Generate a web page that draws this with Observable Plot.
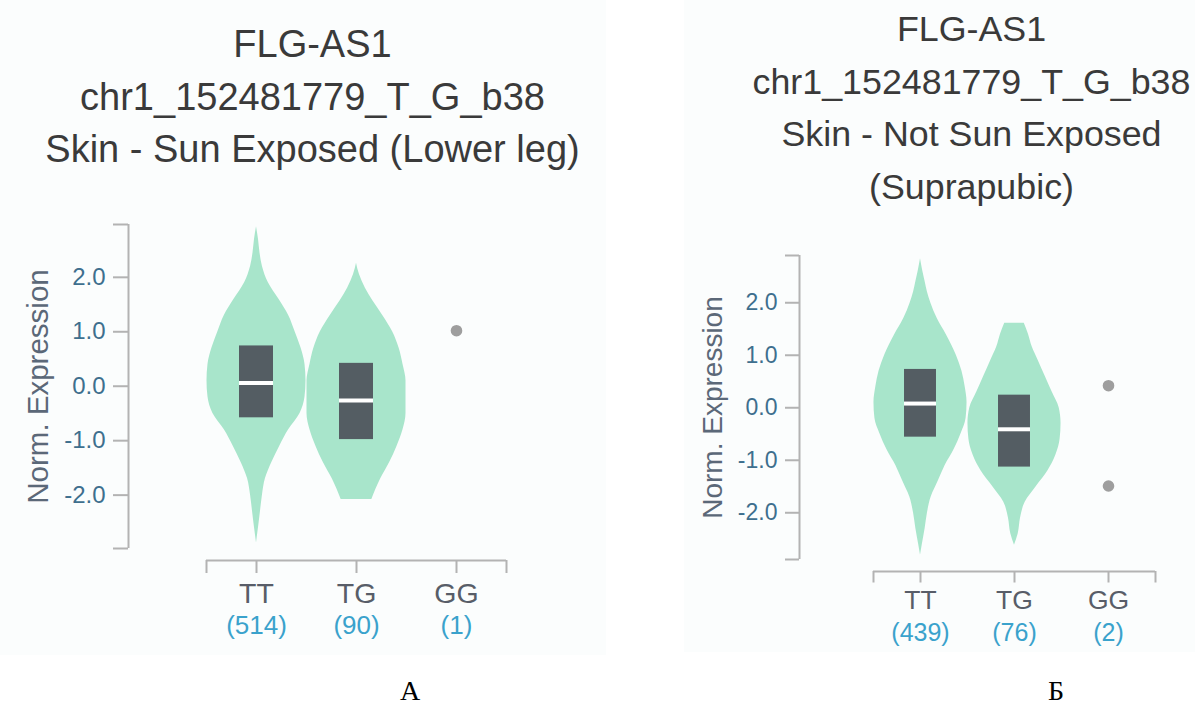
<!DOCTYPE html>
<html>
<head>
<meta charset="utf-8">
<script src="https://cdn.jsdelivr.net/npm/d3@7"></script>
<script src="https://cdn.jsdelivr.net/npm/@observablehq/plot@0.6"></script>
<style>
  html, body { margin: 0; padding: 0; background: #ffffff; }
  #page { position: relative; width: 1195px; height: 707px; overflow: hidden; background: #ffffff; }
  .panel { position: absolute; top: 0; background: #fbfdfd; }
  .title { position: absolute; text-align: center; color: #3a3a3a; font-family: "Liberation Sans", Arial, sans-serif; white-space: nowrap; }
  .chart { position: absolute; top: 0; }
  .tag { position: absolute; font-family: "Liberation Serif", "Times New Roman", serif; font-size: 28px; color: #000; line-height: 1; }
</style>
</head>
<body>
<div id="page">
  <div class="panel" style="left:0;width:606px;height:655px;"></div>
  <div class="panel" style="left:684px;width:511px;height:652px;"></div>
  <div class="title" id="titleL" style="left:0;width:625px;top:18px;font-size:38px;line-height:52.5px;"></div>
  <div class="title" id="titleR" style="left:748px;width:447px;top:3px;font-size:35.8px;line-height:52.5px;"></div>
  <div class="chart" id="chartL" style="left:0;"></div>
  <div class="chart" id="chartR" style="left:680px;"></div>
  <div class="tag" style="left:400px;top:677px;">А</div>
  <div class="tag" style="left:1048px;top:677px;">Б</div>
</div>
<script>
// ---------- data ----------
const genotypes = ["TT", "TG", "GG"];

const titleLinesA = ["FLG-AS1", "chr1_152481779_T_G_b38", "Skin - Sun Exposed (Lower leg)"];
const titleLinesB = ["FLG-AS1", "chr1_152481779_T_G_b38", "Skin - Not Sun Exposed", "(Suprapubic)"];

const countsA = ["(514)", "(90)", "(1)"];
const countsB = ["(439)", "(76)", "(2)"];

const yTicks = [-2, -1, 0, 1, 2];
const yExtentA = [-2.98, 2.97];
const yExtentB = [-2.89, 2.90];

// violin density profiles (expression level, relative density)
const ttA_y = [2.93, 2.7, 2.45, 2.2, 1.9, 1.6, 1.3, 1.0, 0.7, 0.4, 0.1, -0.2, -0.5, -0.8, -1.1, -1.4, -1.7, -2.0, -2.3, -2.6, -2.88];
const ttA_d = [0, .04, .07, .12, .24, .45, .65, .78, .9, .98, 1, .98, .88, .65, .47, .31, .18, .12, .08, .04, 0];
const tgA_y = [2.26, 2.05, 1.8, 1.57, 1.3, 1.0, 0.7, 0.4, 0.1, -0.2, -0.5, -0.8, -1.1, -1.4, -1.7, -2.08];
const tgA_d = [0, .06, .18, .33, .53, .73, .86, .94, 1, 1, 1, .94, .82, .67, .49, .31];

const ttB_y = [2.84, 2.6, 2.4, 2.2, 2.0, 1.7, 1.4, 1.0, 0.7, 0.4, 0.1, -0.2, -0.5, -0.8, -1.1, -1.4, -1.7, -2.0, -2.3, -2.6, -2.81];
const ttB_d = [0, .05, .1, .15, .22, .36, .55, .77, .89, .96, 1, .98, .87, .72, .53, .38, .23, .15, .1, .04, 0];
const tgB_y = [1.61, 1.4, 1.16, 0.9, 0.6, 0.3, 0.0, -0.3, -0.6, -0.9, -1.2, -1.5, -1.8, -2.1, -2.4, -2.62];
const tgB_d = [.21, .3, .38, .51, .66, .81, .96, 1, .98, .89, .72, .47, .23, .13, .08, 0];

// box summaries for TT, TG
const boxA_q1 = [-0.58, -0.98];
const boxA_med = [0.06, -0.26];
const boxA_q3 = [0.74, 0.42];
const boxB_q1 = [-0.56, -1.13];
const boxB_med = [0.08, -0.41];
const boxB_q3 = [0.73, 0.24];

// GG individual samples
const ggA = [1.02];
const ggB = [0.42, -1.49];

// ---------- styles ----------
const C = {
  violin: "#a8e5cb",
  box: "#545d63",
  median: "#ffffff",
  dot: "#9e9e9e",
  axis: "#b3b3b3",
  tick: "#3e6f8e",
  ylabel: "#5b6878",
  xlabel: "#585d68",
  count: "#3aa2cc"
};
const FONT = "'Liberation Sans', Arial, sans-serif";

function fillTitle(id, lines) {
  document.getElementById(id).innerHTML = lines.map(s => `<div>${s}</div>`).join("");
}
fillTitle("titleL", titleLinesA);
fillTitle("titleR", titleLinesB);

function violinRows(ys, ds, idx, g, half) {
  return ys.map((y, i) => ({g, y, x1: idx - ds[i] * half, x2: idx + ds[i] * half}));
}

function makeChart(cfg) {
  const [ymin, ymax] = cfg.yExtent;
  const half = 0.495, boxHalf = 0.17;
  const violins = [
    ...violinRows(cfg.tt_y, cfg.tt_d, 0, "TT", half),
    ...violinRows(cfg.tg_y, cfg.tg_d, 1, "TG", half)
  ];
  const boxes = [0, 1].map(i => ({i, q1: cfg.q1[i], med: cfg.med[i], q3: cfg.q3[i]}));
  const labels = genotypes.map((g, i) => ({i, g, n: cfg.counts[i]}));
  return Plot.plot({
    width: cfg.width,
    height: cfg.height,
    marginLeft: cfg.mL,
    marginRight: cfg.mR,
    marginTop: cfg.mT,
    marginBottom: cfg.mB,
    x: {domain: [-0.5, 2.5], axis: null},
    y: {domain: [ymin, ymax], axis: null},
    style: {background: "transparent", fontFamily: FONT, overflow: "visible"},
    marks: [
      Plot.areaX(violins, {y: "y", x1: "x1", x2: "x2", z: "g", fill: C.violin, curve: "monotone-y"}),
      Plot.rect(boxes, {x1: d => d.i - boxHalf, x2: d => d.i + boxHalf, y1: "q1", y2: "q3", fill: C.box}),
      Plot.ruleY(boxes, {x1: d => d.i - boxHalf, x2: d => d.i + boxHalf, y: "med", stroke: C.median, strokeWidth: 4}),
      Plot.dot(cfg.gg, {x: 2, y: d => d, r: 5.8, fill: C.dot}),
      // y axis
      Plot.ruleX([-0.5], {y1: ymin, y2: ymax, dx: cfg.yAxisDx, stroke: C.axis, strokeWidth: 2}),
      Plot.axisY({anchor: "left", ticks: yTicks, tickFormat: d => d.toFixed(1), dx: cfg.yAxisDx,
        tickSize: cfg.tickSize, tickPadding: 8, fontSize: cfg.tickFont, stroke: C.axis, strokeWidth: 2,
        fill: C.tick, label: null}),
      Plot.axisY({anchor: "left", ticks: [ymin, ymax], tickFormat: () => "", dx: cfg.yAxisDx,
        tickSize: cfg.tickSize, stroke: C.axis, strokeWidth: 2, fill: "none", label: null}),
      Plot.text(["Norm. Expression"], {frameAnchor: "left", dx: cfg.yLabelDx, rotate: -90,
        textAnchor: "middle", lineAnchor: "middle", fontSize: cfg.yLabelFont, fill: C.ylabel}),
      // x axis
      Plot.ruleY([ymin], {x1: -0.5, x2: 2.5, dy: cfg.xAxisDy, stroke: C.axis, strokeWidth: 2}),
      Plot.axisX({anchor: "bottom", ticks: [-0.5, 0, 1, 2, 2.5], tickFormat: () => "", dy: cfg.xAxisDy,
        tickSize: cfg.xTickSize, stroke: C.axis, strokeWidth: 2, fill: "none", label: null}),
      Plot.text(labels, {x: "i", text: "g", frameAnchor: "bottom", dy: cfg.gDy,
        textAnchor: "middle", lineAnchor: "middle", fontSize: cfg.gFont, fill: C.xlabel}),
      Plot.text(labels, {x: "i", text: "n", frameAnchor: "bottom", dy: cfg.nDy,
        textAnchor: "middle", lineAnchor: "middle", fontSize: cfg.nFont, fill: C.count})
    ]
  });
}

document.getElementById("chartL").appendChild(makeChart({
  width: 606, height: 655, mL: 206, mR: 100, mT: 224, mB: 107,
  yExtent: yExtentA,
  tt_y: ttA_y, tt_d: ttA_d, tg_y: tgA_y, tg_d: tgA_d,
  q1: boxA_q1, med: boxA_med, q3: boxA_q3, gg: ggA, counts: countsA,
  yAxisDx: -78, tickSize: 15, tickFont: 24, yLabelDx: -168, yLabelFont: 29.5,
  xAxisDy: 12, xTickSize: 13, gDy: 45, gFont: 28.5, nDy: 77, nFont: 26
}));

document.getElementById("chartR").appendChild(makeChart({
  width: 515, height: 655, mL: 193, mR: 40, mT: 255, mB: 96,
  yExtent: yExtentB,
  tt_y: ttB_y, tt_d: ttB_d, tg_y: tgB_y, tg_d: tgB_d,
  q1: boxB_q1, med: boxB_med, q3: boxB_q3, gg: ggB, counts: countsB,
  yAxisDx: -74, tickSize: 14, tickFont: 23, yLabelDx: -160, yLabelFont: 28,
  xAxisDy: 12, xTickSize: 11.5, gDy: 41, gFont: 26.5, nDy: 73, nFont: 25
}));
</script>
</body>
</html>
